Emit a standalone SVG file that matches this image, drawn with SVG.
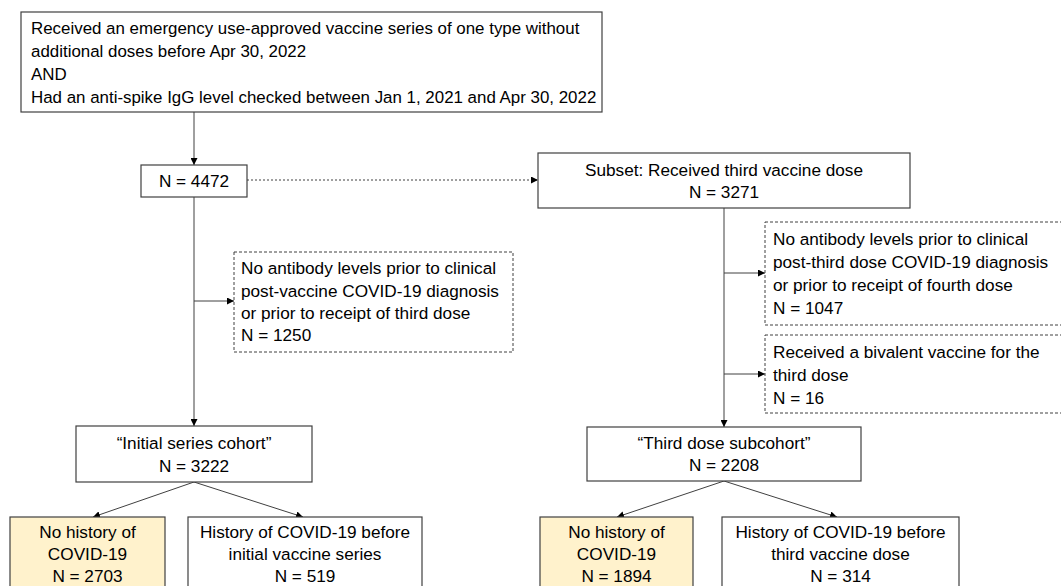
<svg xmlns="http://www.w3.org/2000/svg" width="1061" height="586" viewBox="0 0 1061 586">
<style>
text{font-family:"Liberation Sans",Arial,sans-serif;font-size:17.2px;fill:#000}
.t{font-size:16.9px}
.c{text-anchor:middle}
.box{fill:#fff;stroke:#404040;stroke-width:1.2}
.yel{fill:#fff2cc;stroke:#404040;stroke-width:1.2}
.dash{fill:#fff;stroke:#404040;stroke-width:1;stroke-dasharray:3 2}
.ln{fill:none;stroke:#404040;stroke-width:1;marker-end:url(#ah)}
.dot{fill:none;stroke:#404040;stroke-width:1;stroke-dasharray:2 2;marker-end:url(#ah)}
</style>
<defs>
<marker id="ah" viewBox="0 0 10 10" refX="10" refY="5" markerWidth="7" markerHeight="7" orient="auto" markerUnits="userSpaceOnUse">
<path d="M0,0 L10,5 L0,10 z" fill="#000"/>
</marker>
</defs>
<g id="connectors">
<line class="ln" x1="194" y1="112" x2="194" y2="165"/>
<line class="dot" x1="247" y1="180" x2="538" y2="180"/>
<line class="ln" x1="194" y1="197" x2="194" y2="426"/>
<line class="ln" x1="194" y1="301" x2="234" y2="301"/>
<line class="ln" x1="724" y1="208" x2="724" y2="427"/>
<line class="ln" x1="724" y1="273" x2="765" y2="273"/>
<line class="ln" x1="724" y1="374" x2="765" y2="374"/>
<line class="ln" x1="194" y1="482" x2="93" y2="517"/>
<line class="ln" x1="194" y1="482" x2="303" y2="517"/>
<line class="ln" x1="724" y1="481" x2="617" y2="517"/>
<line class="ln" x1="724" y1="481" x2="837" y2="517"/>
</g>
<g id="top">
<rect class="box" x="21" y="12" width="581" height="100"/>
<text class="t" x="31" y="34">Received an emergency use-approved vaccine series of one type without</text>
<text class="t" x="31" y="57">additional doses before Apr 30, 2022</text>
<text class="t" x="31" y="80">AND</text>
<text class="t" x="31" y="103">Had an anti-spike IgG level checked between Jan 1, 2021 and Apr 30, 2022</text>
</g>
<g id="n4472">
<rect class="box" x="141" y="165" width="106" height="32"/>
<text class="c" x="194" y="187">N = 4472</text>
</g>
<g id="subset">
<rect class="box" x="538" y="153" width="372" height="55"/>
<text class="c" x="724" y="176">Subset: Received third vaccine dose</text>
<text class="c" x="724" y="198">N = 3271</text>
</g>
<g id="excl1">
<rect class="dash" x="234" y="252" width="279" height="100"/>
<text x="241" y="274">No antibody levels prior to clinical</text>
<text x="241" y="297">post-vaccine COVID-19 diagnosis</text>
<text x="241" y="319">or prior to receipt of third dose</text>
<text x="241" y="341">N = 1250</text>
</g>
<g id="excl2">
<rect class="dash" x="765" y="222" width="305" height="103"/>
<text x="773" y="245">No antibody levels prior to clinical</text>
<text x="773" y="268">post-third dose COVID-19 diagnosis</text>
<text x="773" y="291">or prior to receipt of fourth dose</text>
<text x="773" y="314">N = 1047</text>
</g>
<g id="excl3">
<rect class="dash" x="765" y="335" width="305" height="78"/>
<text x="773" y="358">Received a bivalent vaccine for the</text>
<text x="773" y="381">third dose</text>
<text x="773" y="404">N = 16</text>
</g>
<g id="initial">
<rect class="box" x="76" y="426" width="236" height="56"/>
<text class="c" x="194" y="449">“Initial series cohort”</text>
<text class="c" x="194" y="472">N = 3222</text>
</g>
<g id="thirddose">
<rect class="box" x="587" y="427" width="274" height="54"/>
<text class="c" x="724" y="449">“Third dose subcohort”</text>
<text class="c" x="724" y="471">N = 2208</text>
</g>
<g id="nohist1">
<rect class="yel" x="10" y="517" width="155" height="80"/>
<text class="c" x="87.5" y="538">No history of</text>
<text class="c" x="87.5" y="560">COVID-19</text>
<text class="c" x="87.5" y="582">N = 2703</text>
</g>
<g id="hist1">
<rect class="box" x="188" y="517" width="234" height="80"/>
<text class="c" x="305" y="538">History of COVID-19 before</text>
<text class="c" x="305" y="560">initial vaccine series</text>
<text class="c" x="305" y="582">N = 519</text>
</g>
<g id="nohist2">
<rect class="yel" x="540" y="517" width="153" height="80"/>
<text class="c" x="616.5" y="538">No history of</text>
<text class="c" x="616.5" y="560">COVID-19</text>
<text class="c" x="616.5" y="582">N = 1894</text>
</g>
<g id="hist2">
<rect class="box" x="722" y="517" width="237" height="80"/>
<text class="c" x="840.5" y="538">History of COVID-19 before</text>
<text class="c" x="840.5" y="560">third vaccine dose</text>
<text class="c" x="840.5" y="582">N = 314</text>
</g>
</svg>
